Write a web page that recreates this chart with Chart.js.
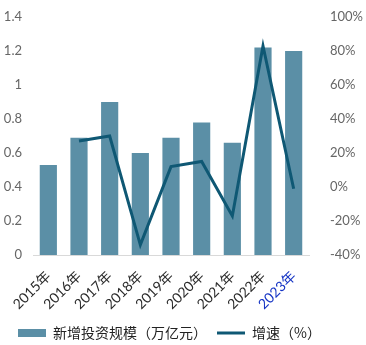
<!DOCTYPE html>
<html>
<head>
<meta charset="utf-8">
<script src="https://cdn.jsdelivr.net/npm/chart.js@4/dist/chart.umd.min.js"></script>
<style>
  html, body { margin: 0; padding: 0; background: #fff; }
  #wrap { width: 366px; height: 345px; }
</style>
</head>
<body>
<div id="wrap"><canvas id="c"></canvas></div>
<script>
  // years, investment scale (trillion yuan) and growth rate (%)
  var years = ['2015年', '2016年', '2017年', '2018年', '2019年', '2020年', '2021年', '2022年', '2023年'];
  var investment = [0.53, 0.69, 0.90, 0.60, 0.69, 0.78, 0.66, 1.22, 1.20];
  var growth = [null, 27, 30, -34, 12, 15, -17, 83, -1];

  var barColor = '#5b8fa6';
  var lineColor = '#0f5874';
  var tickColor = '#666666';
  var font = "Lato, 'Noto Sans CJK SC', sans-serif";

  // fixed side axis sizes so the plot area lines up with the layout
  function fixWidth(w) {
    return function(scale) {
      scale.width = w;
      scale.paddingTop = 0;
      scale.paddingBottom = 0;
    };
  }

  // nudge the legend row after layout
  var legendShift = {
    id: 'legendShift',
    afterLayout: function(chart) {
      if (chart.legend) {
        chart.legend.top += 5;
        chart.legend.bottom += 5;
        chart.legend.left += 8;
      }
    }
  };

  new Chart(document.getElementById('c').getContext('2d'), {
    data: {
      labels: years,
      datasets: [
        {
          type: 'line',
          label: '增速（%）',
          data: growth,
          yAxisID: 'y1',
          borderColor: lineColor,
          backgroundColor: lineColor,
          borderWidth: 3,
          pointRadius: 0,
          pointStyle: 'line',
          tension: 0,
          order: 0
        },
        {
          type: 'bar',
          label: '新增投资规模（万亿元）',
          data: investment,
          yAxisID: 'y',
          backgroundColor: barColor,
          pointStyle: 'rect',
          categoryPercentage: 0.56,
          barPercentage: 1,
          order: 1
        }
      ]
    },
    plugins: [legendShift],
    options: {
      responsive: true,
      maintainAspectRatio: false,
      animation: false,
      layout: { padding: { left: 0, right: 0, top: 17, bottom: 0 } },
      plugins: {
        legend: {
          position: 'bottom',
          align: 'start',
          reverse: true,
          labels: {
            color: '#222',
            font: { family: "'Noto Sans CJK SC', sans-serif", size: 14 },
            usePointStyle: true,
            pointStyleWidth: 28,
            boxHeight: 8,
            padding: 10,
            generateLabels: function(chart) {
              var items = Chart.defaults.plugins.legend.labels.generateLabels(chart);
              items.forEach(function(it) {
                var ds = chart.data.datasets[it.datasetIndex];
                if (ds.type === 'line') {
                  it.lineWidth = 3;
                  it.strokeStyle = lineColor;
                } else {
                  it.lineWidth = 0;
                  it.fillStyle = barColor;
                }
              });
              return items;
            }
          }
        },
        tooltip: { enabled: false }
      },
      scales: {
        x: {
          grid: { display: false, drawTicks: false },
          border: { color: '#d9d9d9' },
          ticks: {
            color: ['#2a2a2a', '#2a2a2a', '#2a2a2a', '#2a2a2a', '#2a2a2a', '#2a2a2a', '#2a2a2a', '#2a2a2a', '#1433c4'],
            font: { family: font, size: 14 },
            maxRotation: 45,
            minRotation: 45,
            padding: 13
          },
          afterFit: function(scale) { scale.height = 56; }
        },
        y: {
          position: 'left',
          min: 0,
          max: 1.4,
          grid: { display: false, drawTicks: false },
          border: { display: false },
          ticks: {
            stepSize: 0.2,
            color: tickColor,
            font: { family: font, size: 13 },
            padding: 11,
            callback: function(v) { return Math.round(v * 10) / 10; }
          },
          afterFit: fixWidth(33)
        },
        y1: {
          position: 'right',
          min: -40,
          max: 100,
          grid: { display: false, drawTicks: false },
          border: { display: false },
          ticks: {
            stepSize: 20,
            color: tickColor,
            font: { family: font, size: 13 },
            padding: 21,
            callback: function(v) { return v + '%'; }
          },
          afterFit: fixWidth(57)
        }
      }
    }
  });
</script>
</body>
</html>
